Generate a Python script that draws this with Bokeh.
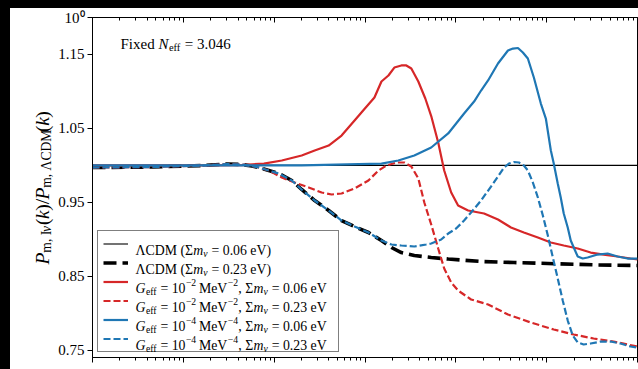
import math
import numpy as np
from bokeh.plotting import figure
from bokeh.models import (FixedTicker, LogAxis, Label, Legend, LegendItem, Range1d,
                          CustomJSTickFormatter, ColumnDataSource)
from bokeh.core.properties import value
from bokeh.layouts import column, row
from bokeh.embed import file_html
from bokeh.resources import INLINE

# ---------------- data (log10 k, P ratio) ----------------
lcdm006_logk = [-4.0, 2.0]
lcdm006_ratio = [1.0, 1.0]

lcdm023_logk = [-4.000, -3.342, -2.793, -2.519, -2.355, -2.245, -2.168, -2.059, -1.949,
                -1.806, -1.697, -1.554, -1.400, -1.258, -1.115, -0.962, -0.819, -0.709,
                -0.600, -0.457, -0.271, -0.084, 0.278, 0.640, 1.013, 1.561, 2.000]
lcdm023_ratio = [0.9970, 0.9977, 0.9997, 1.0017, 1.0011, 0.9990, 0.9970, 0.9930, 0.9889,
                 0.9795, 0.9673, 0.9524, 0.9389, 0.9253, 0.9172, 0.9091, 0.8983, 0.8888,
                 0.8820, 0.8780, 0.8753, 0.8732, 0.8699, 0.8685, 0.8672, 0.8652, 0.8645]

g2_006_logk = [-4.000, -2.793, -2.355, -2.113, -1.916, -1.697, -1.554, -1.400, -1.258,
               -1.115, -1.006, -0.896, -0.819, -0.742, -0.677, -0.600, -0.545, -0.490,
               -0.413, -0.336, -0.271, -0.194, -0.128, -0.051, 0.025, 0.135, 0.311,
               0.464, 0.607, 0.749, 0.903, 1.046, 1.188, 1.342, 1.484, 1.627, 1.780,
               1.923, 2.000]
g2_006_ratio = [1.0000, 1.0000, 1.0004, 1.0024, 1.0065, 1.0133, 1.0200, 1.0268, 1.0403,
                1.0606, 1.0762, 1.0918, 1.1134, 1.1215, 1.1323, 1.1351, 1.1351, 1.1310,
                1.1134, 1.0904, 1.0667, 1.0309, 0.9930, 0.9632, 0.9456, 0.9389, 0.9348,
                0.9267, 0.9159, 0.9091, 0.9023, 0.8956, 0.8915, 0.8875, 0.8820, 0.8793,
                0.8766, 0.8739, 0.8726]

g2_023_logk = [-4.000, -3.342, -2.793, -2.519, -2.355, -2.245, -2.168, -2.059, -1.916,
               -1.773, -1.620, -1.477, -1.367, -1.258, -1.115, -0.962, -0.852, -0.764,
               -0.655, -0.567, -0.490, -0.413, -0.347, -0.271, -0.194, -0.128, -0.051,
               0.025, 0.168, 0.355, 0.574, 0.826, 1.078, 1.298, 1.517, 1.737, 1.890,
               2.000]
g2_023_ratio = [0.9970, 0.9977, 0.9997, 1.0017, 1.0011, 0.9990, 0.9970, 0.9930, 0.9835,
                0.9768, 0.9700, 0.9632, 0.9605, 0.9619, 0.9686, 0.9795, 0.9930, 0.9997,
                1.0038, 1.0038, 0.9984, 0.9822, 0.9497, 0.9199, 0.8875, 0.8604, 0.8415,
                0.8306, 0.8185, 0.8117, 0.7982, 0.7873, 0.7779, 0.7711, 0.7657, 0.7616,
                0.7576, 0.7549]

g4_006_logk = [-4.000, -1.697, -0.819, -0.633, -0.457, -0.271, -0.084, 0.091, 0.201,
               0.278, 0.355, 0.464, 0.574, 0.629, 0.684, 0.738, 0.793, 0.859, 0.936,
               0.991, 1.046, 1.078, 1.122, 1.155, 1.188, 1.232, 1.265, 1.298, 1.342,
               1.397, 1.451, 1.561, 1.671, 1.780, 1.890, 2.000]
g4_006_ratio = [1.0000, 1.0000, 1.0024, 1.0065, 1.0133, 1.0241, 1.0431, 1.0701, 1.0863,
                1.1012, 1.1148, 1.1378, 1.1553, 1.1580, 1.1587, 1.1526, 1.1445, 1.1188,
                1.0836, 1.0633, 1.0200, 1.0024, 0.9754, 0.9565, 0.9348, 0.9159, 0.8983,
                0.8888, 0.8766, 0.8739, 0.8753, 0.8793, 0.8807, 0.8766, 0.8739, 0.8739]

g4_023_logk = [-4.000, -3.342, -2.793, -2.519, -2.355, -2.245, -2.168, -2.059, -1.949,
               -1.806, -1.697, -1.554, -1.400, -1.258, -1.115, -0.962, -0.819, -0.709,
               -0.600, -0.457, -0.326, -0.271, -0.161, -0.084, 0.003, 0.091, 0.168,
               0.278, 0.387, 0.464, 0.530, 0.585, 0.640, 0.695, 0.749, 0.793, 0.848,
               0.903, 0.958, 1.013, 1.068, 1.122, 1.177, 1.232, 1.287, 1.342, 1.407,
               1.484, 1.594, 1.704, 1.813, 1.923, 2.000]
g4_023_ratio = [0.9970, 0.9977, 0.9997, 1.0017, 1.0011, 0.9990, 0.9970, 0.9930, 0.9889,
                0.9795, 0.9673, 0.9524, 0.9389, 0.9253, 0.9172, 0.9091, 0.8983, 0.8929,
                0.8915, 0.8902, 0.8929, 0.8942, 0.8996, 0.9077, 0.9145, 0.9253, 0.9362,
                0.9524, 0.9713, 0.9849, 0.9970, 1.0024, 1.0045, 1.0038, 0.9997, 0.9930,
                0.9768, 0.9565, 0.9321, 0.9050, 0.8753, 0.8469, 0.8171, 0.7900, 0.7697,
                0.7603, 0.7576, 0.7589, 0.7616, 0.7616, 0.7589, 0.7549, 0.7535]

y_ticks = [0.75, 0.85, 0.95, 1.05, 1.15, 1.2]
legend_geff_exp = ["−2", "−2", "−4", "−4"]
legend_mnu = ["0.06", "0.23", "0.06", "0.23"]
lcdm_mnu = ["0.06", "0.23"]

RED = "#d62728"
BLUE = "#1f77b4"
SERIF = "Liberation Serif"

# ---------------- main figure ----------------
p = figure(width=583, height=361, x_axis_type="log", x_range=(1e-4, 1e2),
           y_range=(0.74, 1.2), output_backend="svg", toolbar_location=None,
           min_border_left=35, min_border_right=1, min_border_top=9,
           min_border_bottom=12)
p.xgrid.visible = False
p.ygrid.visible = False
p.background_fill_color = "white"
p.border_fill_color = "white"
p.outline_line_color = "black"
p.outline_line_width = 1

major = [10.0 ** e for e in range(-4, 3)]
minor = [m * 10.0 ** e for e in range(-4, 2) for m in range(2, 10)]

xb = p.below[0]
xb.ticker = FixedTicker(ticks=major, minor_ticks=minor)
xb.major_tick_out = 5
xb.major_tick_in = 0
xb.minor_tick_out = 3
xb.minor_tick_in = 0
xb.major_label_text_font_size = "1px"
xb.major_label_text_alpha = 0.0
xb.major_label_standoff = 0
xb.axis_line_color = "black"
xb.major_tick_line_color = "black"
xb.minor_tick_line_color = "black"

xt = LogAxis(ticker=FixedTicker(ticks=major, minor_ticks=minor),
             major_tick_in=5, major_tick_out=0, minor_tick_in=3, minor_tick_out=0,
             major_label_text_font_size="1px", major_label_text_alpha=0.0,
             major_label_standoff=0,
             axis_line_color="black", major_tick_line_color="black",
             minor_tick_line_color="black")
p.add_layout(xt, "above")

ya = p.left[0]
ya.ticker = FixedTicker(ticks=y_ticks, minor_ticks=[])
ya.formatter = CustomJSTickFormatter(code="return tick > 1.19 ? '10\u2070' : tick.toFixed(2);")
ya.major_tick_out = 5
ya.major_tick_in = 0
ya.minor_tick_out = 0
ya.minor_tick_in = 0
ya.major_label_standoff = 3
ya.major_label_text_font = SERIF
ya.major_label_text_font_size = "15px"
ya.major_label_text_color = "black"
ya.axis_line_color = "black"
ya.major_tick_line_color = "black"

def src(logk, ratio):
    return ColumnDataSource(dict(k=10.0 ** np.array(logk), r=np.array(ratio)))

r1 = p.line("k", "r", source=src(lcdm006_logk, lcdm006_ratio), line_color="black", line_width=1.1)
r2 = p.line("k", "r", source=src(lcdm023_logk, lcdm023_ratio), line_color="black",
            line_width=3.6, line_dash="13 6")
r3 = p.line("k", "r", source=src(g2_006_logk, g2_006_ratio), line_color=RED, line_width=2.2)
r4 = p.line("k", "r", source=src(g2_023_logk, g2_023_ratio), line_color=RED,
            line_width=2.2, line_dash="7 3")
r5 = p.line("k", "r", source=src(g4_006_logk, g4_006_ratio), line_color=BLUE, line_width=2.2)
r6 = p.line("k", "r", source=src(g4_023_logk, g4_023_ratio), line_color=BLUE,
            line_width=2.2, line_dash="7 3")

legend = Legend(items=[LegendItem(label="·", renderers=[r]) for r in (r1, r2, r3, r4, r5, r6)],
                location=(5, 5), margin=0, padding=5, spacing=4,
                glyph_width=25, glyph_height=15, label_height=15, label_width=197,
                label_standoff=8, label_text_font_size="8px", label_text_alpha=0.0,
                border_line_color="black", border_line_width=1.2,
                background_fill_color="white", background_fill_alpha=0.0)
p.add_layout(legend)

# ---------------- text helpers (Liberation Serif advance widths / 1000) ----------------
W_REG = {' ': 250, '(': 333, ')': 333, ',': 250, '.': 250, '/': 278, '=': 564, '−': 564,
         'C': 667, 'D': 722, 'F': 556, 'G': 722, 'I': 333, 'M': 889, 'N': 722, 'P': 556,
         'V': 722, 'd': 500, 'e': 444, 'f': 333, 'i': 278, 'k': 500, 'm': 778, 'x': 500,
         'Λ': 722, 'Σ': 600, 'ν': 500}
W_IT = {'G': 722, 'N': 667, 'P': 611, 'k': 444, 'm': 722, 'ν': 460}

def text_width(t, italic):
    tab = W_IT if italic else W_REG
    return sum(tab.get(c, W_REG.get(c, 500)) for c in t) / 1000.0

FL, FB = 90, 357   # frame left / bottom in page pixels

def add_label(t, px, py, size, italic=False):
    p.add_layout(Label(x=px - FL, y=FB - py, x_units="screen", y_units="screen", text=t,
                       text_font=SERIF, text_font_size=f"{size:.1f}px",
                       text_font_style="italic" if italic else "normal",
                       text_color="black", text_align="left",
                       text_baseline="alphabetic"))

def measure(pieces, size):
    total = 0.0
    for t, it, role, gap in pieces:
        fs = size * 0.7 if role else size
        total += gap * size + text_width(t, it) * fs
    return total

def compose(pieces, px, py, size, draw, vertical=False):
    along = 0.0
    for t, it, role, gap in pieces:
        along += gap * size
        fs = size * 0.7 if role else size
        shift = 0.25 * size if role == "sub" else (-0.42 * size if role == "sup" else 0.0)
        if vertical:
            draw(t, px + shift, py - along, fs, it)
        else:
            draw(t, px + along, py + shift, fs, it)
        along += text_width(t, it) * fs

# legend texts
LS = 13.8
row_base = [249.5, 268.5, 287.5, 306.5, 325.5, 344.5]
for i, mv in enumerate(lcdm_mnu):
    compose([("ΛCDM (Σ", False, None, 0), ("m", True, None, 0), ("ν", True, "sub", 0),
             ("= " + mv + " eV)", False, None, 0.28)], 133, row_base[i], LS, add_label)
for i in range(4):
    compose([("G", True, None, 0), ("eff", False, "sub", 0.03), ("= 10", False, None, 0.28),
             (legend_geff_exp[i], False, "sup", 0.03), ("MeV", False, None, 0.2),
             (legend_geff_exp[i], False, "sup", 0.03), (",", False, None, 0.02),
             ("Σ", False, None, 0.25),
             ("m", True, None, 0), ("ν", True, "sub", 0),
             ("= " + legend_mnu[i] + " eV", False, None, 0.28)], 133, row_base[i + 2], LS,
            add_label)

# annotation
compose([("Fixed", False, None, 0), ("N", True, None, 0.25), ("eff", False, "sub", 0.03),
         ("= 3.046", False, None, 0.28)], 118, 43.5, 15, add_label)

# ---------------- y-axis label panel (page-pixel coordinates) ----------------
lf = figure(width=45, height=361, x_range=Range1d(10, 55), y_range=Range1d(369, 8),
            output_backend="svg", toolbar_location=None, min_border=0,
            x_axis_location=None, y_axis_location=None)
lf.xgrid.visible = False
lf.ygrid.visible = False
lf.outline_line_color = None
lf.background_fill_color = "white"
lf.border_fill_color = "white"

def draw_vertical(t, px, py, size, italic=False):
    lf.text(x=[px], y=[py], text=[t], angle=math.pi / 2,
            text_font=value(SERIF), text_font_size=value(f"{size:.1f}px"),
            text_font_style="italic" if italic else "normal",
            text_color="black", text_align="left", text_baseline="alphabetic")

YL = 19.5
ylab = [("P", True, None, 0), ("m, I", False, "sub", 0.03), ("ν", True, "sub", 0),
        ("(", False, None, 0.05), ("k", True, None, 0), (")/", False, None, 0),
        ("P", True, None, 0), ("m, ΛCDM", False, "sub", 0.03),
        ("(", False, None, 0.05), ("k", True, None, 0), (")", False, None, 0)]
ylen = measure(ylab, YL)
compose(ylab, 41.5, 189 + ylen / 2, YL, draw_vertical, vertical=True)

inner = row(lf, p, margin=(8, 0, 0, 10), spacing=0, styles={"background-color": "white"})
layout = column(inner, styles={"background-color": "black"})
open("out.html", "w").write(file_html(layout, INLINE))
